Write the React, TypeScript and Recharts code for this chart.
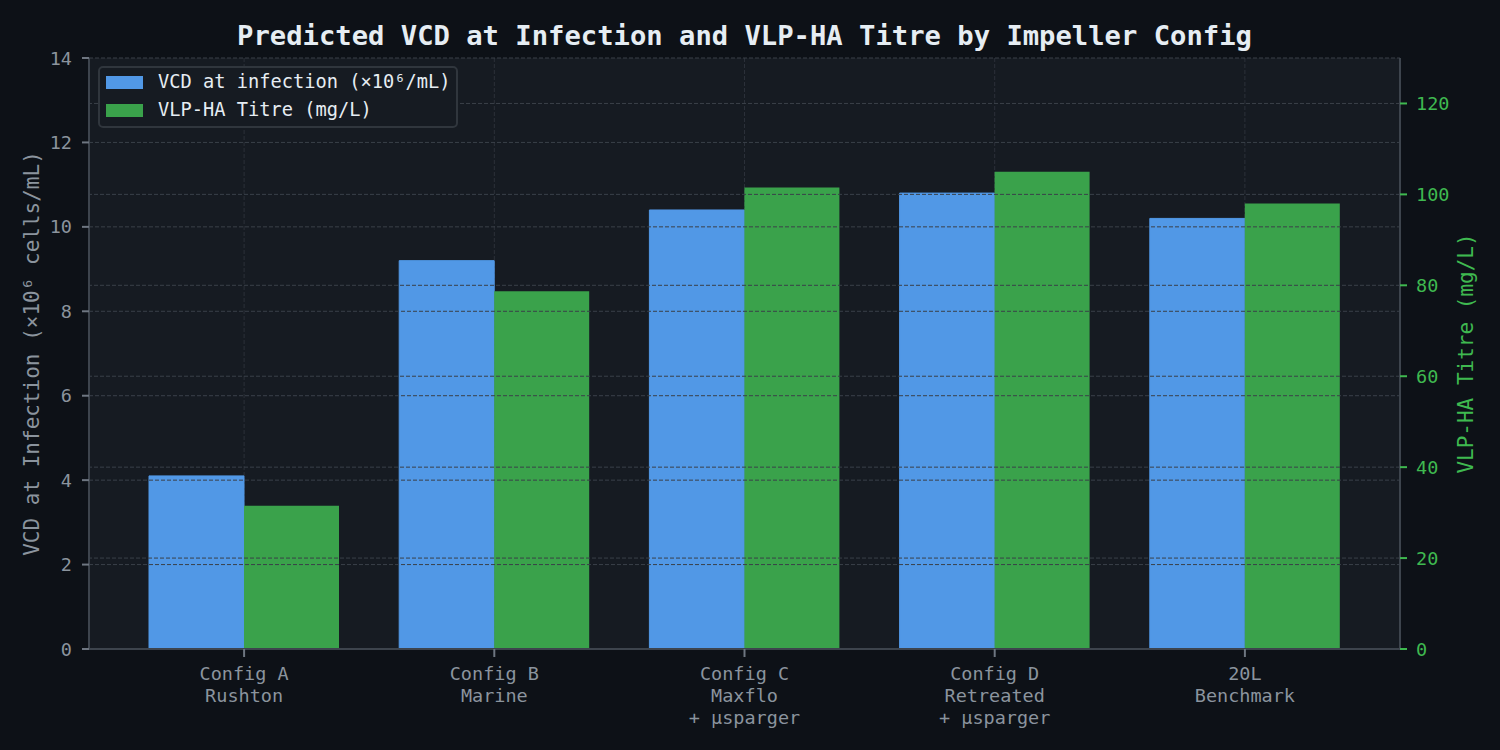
import React from 'react';
import {
  BarChart,
  Bar,
  XAxis,
  YAxis,
  CartesianGrid,
  ReferenceLine,
  Legend,
  Label,
} from 'recharts';

// Impeller configurations (multi-line tick labels split on "\n")
const configs = [
  'Config A\nRushton',
  'Config B\nMarine',
  'Config C\nMaxflo\n+ µsparger',
  'Config D\nRetreated\n+ µsparger',
  '20L\nBenchmark',
];
// Predicted viable cell density at infection (×10⁶ cells/mL)
const vcdAtInfection = [4.1, 9.2, 10.4, 10.8, 10.2];
// VLP-HA titre (mg/L)
const vlpHaTitre = [31.5, 78.7, 101.5, 105.0, 98.0];

const vcdTicks = [0, 2, 4, 6, 8, 10, 12, 14];
const titreTicks = [0, 20, 40, 60, 80, 100, 120];

const FONT = '"DejaVu Sans Mono", monospace';
const TICK_SIZE = 18.5;
const PAGE_BG = '#0d1117';
const PLOT_BG = '#161b22';
const SPINE = '#3d444d';
const GRID = '#3a4049';
const MUTED = '#8b949e';
const BLUE = '#5198e6';
const GREEN = '#3aa24b';
const GREEN_TEXT = '#3fb950';

const rows = configs.map((config, i) => ({
  config,
  vcd: vcdAtInfection[i],
  titre: vlpHaTitre[i],
}));

function ConfigTick(props: any) {
  const { x, y, payload } = props;
  const lines = String(payload.value).split('\n');
  return (
    <text x={x} y={y} textAnchor="middle" fill={MUTED} fontFamily={FONT} fontSize={TICK_SIZE}>
      {lines.map((line, i) => (
        <tspan key={i} x={x} dy={i === 0 ? 19 : 22}>
          {line}
        </tspan>
      ))}
    </text>
  );
}

function LegendBox(props: any) {
  const payload = props.payload || [];
  return (
    <div
      style={{
        boxSizing: 'border-box',
        width: 360,
        height: 62,
        background: PLOT_BG,
        border: `2px solid #30363d`,
        borderRadius: 5,
        padding: '0 0 0 6px',
        fontFamily: FONT,
        fontSize: 18.7,
        color: '#e6edf3',
      }}
    >
      {payload.map((entry: any, i: number) => (
        <div key={i} style={{ display: 'flex', alignItems: 'center', height: 28 }}>
          <span
            style={{
              display: 'inline-block',
              width: 37,
              height: 13,
              background: entry.color,
              marginRight: 15,
            }}
          />
          <span style={{ lineHeight: '28px', whiteSpace: 'nowrap' }}>{entry.value}</span>
        </div>
      ))}
    </div>
  );
}

function AxisTitle(props: any) {
  const { viewBox, value, offsetX, color } = props;
  const cx = viewBox.x + offsetX;
  const cy = viewBox.y + viewBox.height / 2;
  return (
    <text
      x={cx}
      y={cy}
      transform={`rotate(-90, ${cx}, ${cy})`}
      textAnchor="middle"
      dominantBaseline="central"
      fill={color}
      fontFamily={FONT}
      fontSize={21}
    >
      {value}
    </text>
  );
}

export default function App() {
  return (
    <div
      style={{
        position: 'absolute',
        left: 0,
        top: 0,
        width: 1500,
        height: 750,
        background: PAGE_BG,
      }}
    >
      <div
        style={{
          position: 'absolute',
          left: 0,
          top: 22,
          width: 1489,
          textAlign: 'center',
          fontFamily: FONT,
          fontWeight: 'bold',
          fontSize: 27.2,
          lineHeight: '27px',
          color: '#e6edf3',
          whiteSpace: 'nowrap',
        }}
      >
        Predicted VCD at Infection and VLP-HA Titre by Impeller Config
      </div>
      <BarChart
        width={1500}
        height={750}
        data={rows}
        margin={{ top: 58, right: 0, bottom: 0, left: 0 }}
        barGap={0}
        barCategoryGap={30}
      >
        <CartesianGrid
          yAxisId="left"
          horizontal={false}
          vertical
          stroke={GRID}
          strokeOpacity={0.6}
          strokeDasharray="4 2"
          fill={PLOT_BG}
          fillOpacity={1}
        />
        <XAxis
          dataKey="config"
          interval={0}
          height={101}
          padding={{ left: 30, right: 30 }}
          tick={<ConfigTick />}
          tickSize={8}
          tickMargin={4}
          axisLine={{ stroke: SPINE, strokeWidth: 2 }}
          tickLine={{ stroke: '#6e7681', strokeWidth: 2 }}
        />
        <YAxis
          yAxisId="left"
          domain={[0, 14]}
          ticks={vcdTicks}
          width={89}
          tickSize={7}
          tickMargin={10}
          tick={{ fill: MUTED, fontFamily: FONT, fontSize: TICK_SIZE }}
          axisLine={{ stroke: SPINE, strokeWidth: 2 }}
          tickLine={{ stroke: '#6e7681', strokeWidth: 2 }}
          allowDataOverflow
        >
          <Label
            content={(p: any) => (
              <AxisTitle {...p} value="VCD at Infection (×10⁶ cells/mL)" offsetX={32} color={MUTED} />
            )}
          />
        </YAxis>
        <YAxis
          yAxisId="right"
          orientation="right"
          domain={[0, 130]}
          ticks={titreTicks}
          width={100}
          tickSize={7}
          tickMargin={9}
          tick={{ fill: GREEN_TEXT, fontFamily: FONT, fontSize: TICK_SIZE }}
          axisLine={{ stroke: SPINE, strokeWidth: 2 }}
          tickLine={{ stroke: GREEN_TEXT, strokeWidth: 2 }}
          allowDataOverflow
        >
          <Label
            content={(p: any) => (
              <AxisTitle {...p} value="VLP-HA Titre (mg/L)" offsetX={66} color={GREEN_TEXT} />
            )}
          />
        </YAxis>
        <Legend
          layout="horizontal"
          verticalAlign="middle"
          align="center"
          content={<LegendBox />}
          wrapperStyle={{ position: 'absolute', top: 66, left: 98, width: 360, height: 62 }}
        />
        <Bar
          yAxisId="left"
          dataKey="vcd"
          name="VCD at infection (×10⁶/mL)"
          fill={BLUE}
          stroke={BLUE}
          strokeWidth={1}
          isAnimationActive={false}
        />
        {vcdTicks.map((t) => (
          <ReferenceLine
            key={`l${t}`}
            yAxisId="left"
            y={t}
            stroke={GRID}
            strokeDasharray="4 2"
            strokeWidth={1}
          />
        ))}
        <Bar
          yAxisId="right"
          dataKey="titre"
          name="VLP-HA Titre (mg/L)"
          fill={GREEN}
          isAnimationActive={false}
        />
        {titreTicks.map((t) => (
          <ReferenceLine
            key={`r${t}`}
            yAxisId="right"
            y={t}
            stroke={GRID}
            strokeDasharray="4 2"
            strokeWidth={1}
          />
        ))}
      </BarChart>
    </div>
  );
}
